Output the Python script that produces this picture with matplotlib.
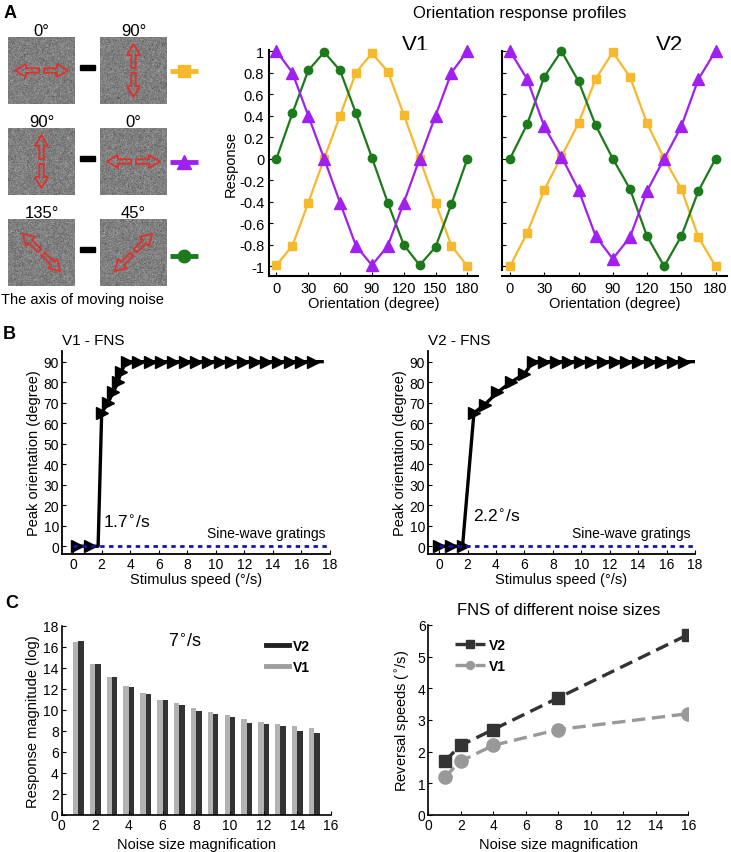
import numpy as np
import matplotlib
matplotlib.use("Agg")
import matplotlib.pyplot as plt
from matplotlib.patches import FancyArrow, Rectangle
from matplotlib.lines import Line2D

plt.rcParams['font.family'] = ['Liberation Sans', 'DejaVu Sans']
plt.rcParams['xtick.direction'] = 'in'
plt.rcParams['ytick.direction'] = 'in'

# ---- data: A, orientation response profiles ----
orient = [0, 15, 30, 45, 60, 75, 90, 105, 120, 135, 150, 165, 180]
v1_orange = [-0.99, -0.81, -0.41, 0.0, 0.40, 0.80, 0.98, 0.81, 0.41, 0.0, -0.41, -0.81, -1.0]
v1_purple = [1.0, 0.80, 0.40, 0.0, -0.41, -0.81, -0.99, -0.81, -0.41, 0.0, 0.40, 0.80, 1.0]
v1_green = [0.0, 0.42, 0.82, 0.99, 0.82, 0.42, 0.01, -0.41, -0.80, -0.99, -0.82, -0.42, 0.0]
v2_orange = [-1.0, -0.69, -0.29, 0.02, 0.33, 0.74, 0.99, 0.76, 0.33, 0.0, -0.28, -0.73, -1.0]
v2_purple = [1.0, 0.74, 0.30, 0.02, -0.29, -0.72, -0.93, -0.73, -0.30, 0.0, 0.30, 0.74, 1.0]
v2_green = [0.0, 0.32, 0.76, 1.0, 0.72, 0.31, 0.0, -0.28, -0.72, -1.0, -0.72, -0.30, 0.0]
stim_pairs = [(0, 90), (90, 0), (135, 45)]

# ---- data: B, peak orientation vs speed ----
fns_v1_speed = [0.3, 1.2, 1.75, 2.0, 2.45, 2.8, 3.15, 3.35, 3.75, 4.55, 5.37, 6.18, 7.0,
                7.82, 8.63, 9.45, 10.27, 11.08, 11.9, 12.72, 13.53, 14.35, 15.17, 15.98, 16.8, 17.45]
fns_v1_peak = [0, 0, 0, 65, 70, 75, 80, 85, 90, 90, 90, 90, 90,
               90, 90, 90, 90, 90, 90, 90, 90, 90, 90, 90, 90, 90]
fns_v2_speed = [0.0, 0.83, 1.65, 2.45, 3.2, 4.1, 5.05, 6.0, 6.6, 7.41, 8.23, 9.06, 9.88,
                10.7, 11.53, 12.35, 13.17, 14.0, 14.8, 15.6, 16.46, 17.2, 18.0]
fns_v2_peak = [0, 0, 0, 65, 69, 75, 80, 84, 90, 90, 90, 90, 90,
               90, 90, 90, 90, 90, 90, 90, 90, 90, 90]
grating_speed = [0, 18]
grating_peak = [0, 0]

# ---- data: C ----
noise_size = [1, 2, 3, 4, 5, 6, 7, 8, 9, 10, 11, 12, 13, 14, 15]
mag_v1 = [16.5, 14.35, 13.15, 12.3, 11.65, 11.0, 10.7, 10.15, 9.83, 9.48, 9.13, 8.87, 8.68, 8.43, 8.27]
mag_v2 = [16.55, 14.4, 13.1, 12.2, 11.55, 10.95, 10.5, 9.9, 9.65, 9.32, 8.8, 8.62, 8.5, 7.98, 7.78]
rev_size = [1, 2, 4, 8, 16]
rev_v2 = [1.7, 2.2, 2.7, 3.7, 5.7]
rev_v1 = [1.2, 1.7, 2.2, 2.7, 3.2]

ORANGE, PURPLE, GREEN = '#F6B82C', '#A020F0', '#1C7A1C'
W, H = 731, 853
fig = plt.figure(figsize=(W / 100, H / 100), dpi=100)


def px_axes(x0, y0, x1, y1):
    return fig.add_axes([x0 / W, 1 - y1 / H, (x1 - x0) / W, (y1 - y0) / H])


# overlay in pixel coordinates for the stimulus pictures and free text
ov = fig.add_axes([0, 0, 1, 1])
ov.set_xlim(0, W); ov.set_ylim(H, 0); ov.axis('off')

rng = np.random.default_rng(7)
row_tops = [38, 129, 220]
col_lefts = [8, 100]
sz = 67
for r, (a_left, a_right) in enumerate(stim_pairs):
    for c, ang in enumerate((a_left, a_right)):
        x0, y0 = col_lefts[c], row_tops[r]
        tex = np.clip(rng.normal(0.5, 0.11, (sz * 2, sz * 2)), 0, 1)
        ov.imshow(tex, cmap='gray', vmin=0, vmax=1, extent=(x0, x0 + sz, y0 + sz, y0),
                  aspect='auto', interpolation='antialiased')
        cx, cy = x0 + sz / 2, y0 + sz / 2
        d = np.array([np.cos(np.radians(ang)), -np.sin(np.radians(ang))])
        for s in (1, -1):
            st = np.array([cx, cy]) + s * d * 2.5
            vec = s * d * 24
            ov.add_patch(FancyArrow(st[0], st[1], vec[0], vec[1], width=4.5, head_width=13,
                                    head_length=11, length_includes_head=True, fill=False,
                                    ec='#E2302C', lw=1.3))
        ov.text(cx, y0 - 7, f"{ang}°", ha='center', va='center', fontsize=12)
    mid = row_tops[r] + 30
    ov.add_patch(Rectangle((80, mid - 2), 15, 4.5, color='black'))

icon_y = [72, 163, 257]
for yy, col, mk, ms in zip(icon_y, [ORANGE, PURPLE, GREEN], ['s', '^', 'o'], [9, 10, 9]):
    ov.plot([170, 198], [yy, yy], color=col, lw=3.5, solid_capstyle='butt')
    ov.plot([184], [yy], marker=mk, color=col, ms=ms)
ov.text(1, 300, "The axis of moving noise", ha='left', va='center', fontsize=10.5)

# panel letters
ov.text(4, 13, "A", fontsize=13, fontweight='bold', va='center')
ov.text(3, 334, "B", fontsize=13, fontweight='bold', va='center')
ov.text(5, 603, "C", fontsize=13, fontweight='bold', va='center')

# ---- A: response profiles ----
ov.text(520, 13, "Orientation response profiles", ha='center', va='center', fontsize=12)
axA1 = px_axes(269, 51, 478, 277)
axA2 = px_axes(502, 51, 727, 277)
for ax, o, p, g in ((axA1, v1_orange, v1_purple, v1_green), (axA2, v2_orange, v2_purple, v2_green)):
    ax.plot(orient, o, color=ORANGE, lw=1.6, marker='s', ms=5.5, clip_on=False)
    ax.plot(orient, g, color=GREEN, lw=1.6, marker='o', ms=6, clip_on=False)
    ax.plot(orient, p, color=PURPLE, lw=1.6, marker='^', ms=8, clip_on=False)
    ax.set_xlim(-7, 190)
    ax.set_ylim(-1.09, 1.01)
    ax.set_xticks(range(0, 181, 30))
    ax.set_yticks(np.linspace(-1, 1, 11))
    ax.spines['top'].set_visible(False)
    ax.spines['right'].set_visible(False)
    ax.spines['left'].set_linewidth(1.5)
    ax.spines['bottom'].set_linewidth(1.5)
    ax.tick_params(labelsize=10.5, length=3)
    ax.set_xlabel("Orientation (degree)", fontsize=10.5, labelpad=1)
axA1.set_yticklabels(['-1', '-0.8', '-0.6', '-0.4', '-0.2', '0', '0.2', '0.4', '0.6', '0.8', '1'])
axA1.set_ylabel("Response", fontsize=10.5, labelpad=1)
axA2.set_yticklabels([])
axA2.spines['left'].set_bounds(-1.03, 1.0)
ov.text(416, 45, "V1", ha='center', va='center', fontsize=16)
ov.text(670, 45, "V2", ha='center', va='center', fontsize=16)

# ---- B: peak orientation ----
axB1 = px_axes(62, 352, 330, 555)
axB2 = px_axes(428, 352, 695, 555)
for ax, sp, pk, hide, ttl, thr, tx, ty in (
        (axB1, fns_v1_speed, fns_v1_peak, [2, 25], "V1 - FNS", r"1.7$^{\circ}$/s", 2.1, 12),
        (axB2, fns_v2_speed, fns_v2_peak, [22], "V2 - FNS", r"2.2$^{\circ}$/s", 2.35, 15)):
    marked = [i for i in range(len(sp)) if i not in hide]
    ax.plot(sp, pk, color='black', lw=2.4, marker='>', ms=8, markevery=marked, zorder=2)
    ax.plot(grating_speed, grating_peak, color='#1414B4', lw=2, ls=(0, (1.6, 1.6)), zorder=3)
    ax.set_xlim(-0.78, 18)
    ax.set_ylim(-3.8, 95.2)
    ax.set_xticks(range(0, 19, 2))
    ax.set_yticks(range(0, 91, 10))
    ax.spines['top'].set_visible(False)
    ax.spines['right'].set_visible(False)
    ax.spines['left'].set_linewidth(1.3)
    ax.spines['bottom'].set_linewidth(1.3)
    ax.tick_params(labelsize=10, length=3, pad=2)
    ax.set_xlabel("Stimulus speed (°/s)", fontsize=10.5, labelpad=1)
    ax.set_ylabel("Peak orientation (degree)", fontsize=10.5, labelpad=2)
    ax.text(0.0, 1.02, ttl, transform=ax.transAxes, fontsize=11, ha='left', va='bottom')
    ax.text(17.7, 3, "Sine-wave gratings", ha='right', va='bottom', fontsize=10)
    ax.text(tx, ty, thr, ha='left', va='center', fontsize=12.5)

# ---- C left: response magnitude bars ----
axC1 = px_axes(61.5, 627, 331, 816)
bw = 0.32
x = np.array(noise_size)
axC1.bar(x - bw / 2, mag_v1, width=bw, color='#B3B3B3')
axC1.bar(x + bw / 2, mag_v2, width=bw, color='#333333')
axC1.set_xlim(0, 16)
axC1.set_ylim(0, 18)
axC1.set_xticks(range(0, 17, 2))
axC1.set_yticks(range(0, 19, 2))
axC1.set_xlabel("Noise size magnification", fontsize=10.5)
axC1.set_ylabel("Response magnitude (log)", fontsize=10.5, labelpad=2)
axC1.text(0.46, 0.92, r"7$^{\circ}$/s", transform=axC1.transAxes, ha='center', va='center', fontsize=13)
handles = [Line2D([], [], color='#222222', lw=3.5), Line2D([], [], color='#9E9E9E', lw=3.5)]
axC1.legend(handles, ['V2', 'V1'], loc='upper left', bbox_to_anchor=(0.74, 0.96), frameon=False,
            prop={'weight': 'bold', 'size': 10}, handlelength=1.6, handletextpad=0.3,
            borderaxespad=0, labelspacing=0.5)

# ---- C right: reversal speeds ----
axC2 = px_axes(428.3, 626, 688.3, 816)
axC2.plot(rev_size, rev_v2, color='#333333', ls=(0, (4, 2)), lw=2.4, marker='s', ms=8.5, label='V2')
axC2.plot(rev_size, rev_v1, color='#999999', ls=(0, (4, 2)), lw=2.4, marker='o', ms=9.5, label='V1')
axC2.set_xlim(0, 16)
axC2.set_ylim(0, 6)
axC2.set_xticks(range(0, 17, 2))
axC2.set_yticks(range(0, 7))
axC2.set_xlabel("Noise size magnification", fontsize=10.5)
axC2.set_ylabel(r"Reversal speeds ($^{\circ}$/s)", fontsize=10.5, labelpad=4)
axC2.set_title("FNS of different noise sizes", fontsize=12, pad=8)
axC2.legend(loc='upper left', bbox_to_anchor=(0.08, 0.96), frameon=False, markerscale=0.6,
            prop={'weight': 'bold', 'size': 10}, handlelength=2.2, handletextpad=0.3,
            borderaxespad=0, labelspacing=0.5)

for ax in (axC1, axC2):
    ax.spines['top'].set_visible(False)
    ax.spines['right'].set_visible(False)
    ax.spines['left'].set_linewidth(1.2)
    ax.spines['bottom'].set_linewidth(1.2)
    ax.tick_params(labelsize=10, length=3, pad=2)

fig.savefig("out.png", dpi=100)
